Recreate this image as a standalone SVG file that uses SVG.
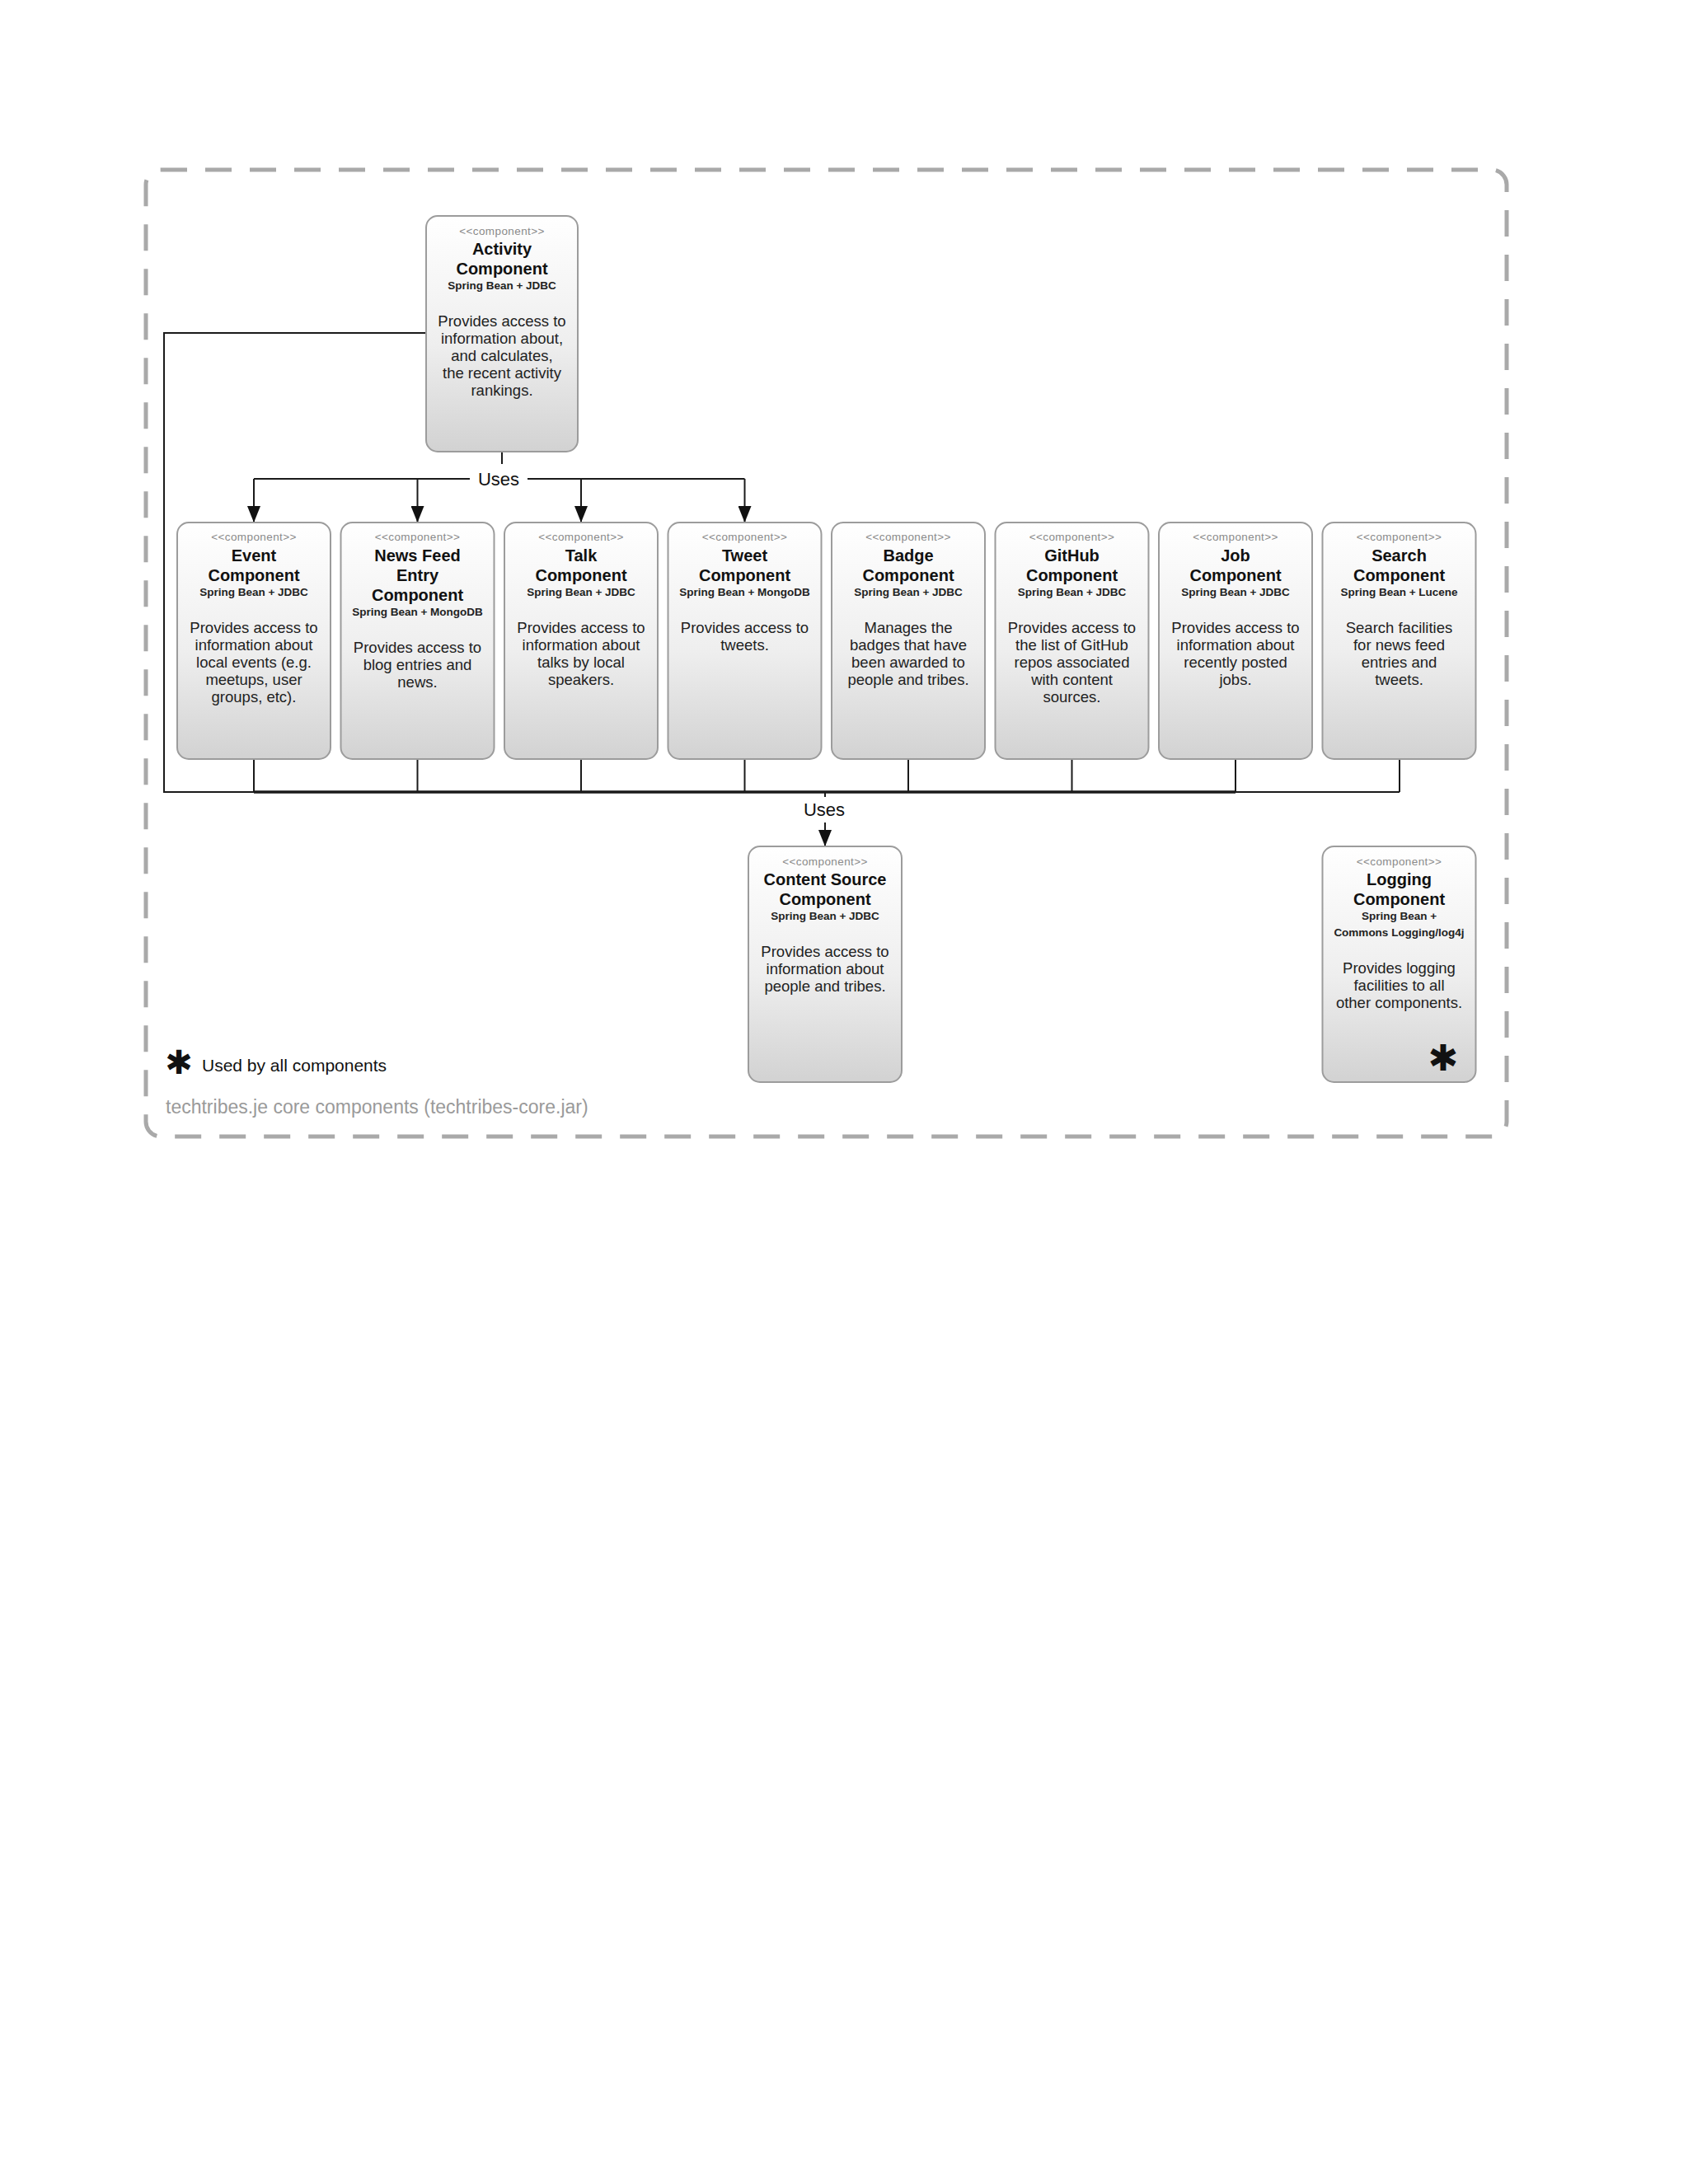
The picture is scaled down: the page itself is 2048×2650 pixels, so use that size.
<svg xmlns="http://www.w3.org/2000/svg" width="2048" height="2650" viewBox="0 0 2048 2650">
<defs>
<linearGradient id="nodeGrad" x1="0" y1="0" x2="0" y2="1">
<stop offset="0" stop-color="#ffffff"/>
<stop offset="0.55" stop-color="#eeeeee"/>
<stop offset="1" stop-color="#d2d2d2"/>
</linearGradient>
<marker id="arrowDown" markerUnits="userSpaceOnUse" markerWidth="16" markerHeight="20" viewBox="0 0 16 20" refX="8" refY="20" orient="0">
<path d="M0,0 L16,0 L8,20 Z" fill="#111"/>
</marker>
</defs>
<style>
.box{fill:url(#nodeGrad);stroke:#9c9c9c;stroke-width:2}
.st{font-family:"Liberation Sans",Arial,sans-serif;font-size:13.5px;fill:#8a8a8a;text-anchor:middle;letter-spacing:0.4px}
.ti{font-family:"Liberation Sans",Arial,sans-serif;font-size:20px;font-weight:bold;fill:#111;text-anchor:middle}
.te{font-family:"Liberation Sans",Arial,sans-serif;font-size:13.5px;font-weight:bold;fill:#222;text-anchor:middle}
.de{font-family:"Liberation Sans",Arial,sans-serif;font-size:18.5px;fill:#222;text-anchor:middle}
.ln{fill:none;stroke:#1a1a1a;stroke-width:2}
.lab{font-family:"Liberation Sans",Arial,sans-serif;font-size:22px;fill:#111;text-anchor:middle}
.ast{font-family:"DejaVu Sans",sans-serif;font-weight:bold;fill:#111;text-anchor:middle}
</style>
<rect width="2048" height="2650" fill="#ffffff"/>

<g id="boundary">
<rect x="177" y="206" width="1651" height="1173" rx="18" ry="18" fill="none" stroke="#a9a9a9" stroke-width="5" stroke-dasharray="32 22"/>
<text x="201" y="1351" font-family="Liberation Sans, Arial, sans-serif" font-size="23" fill="#9a9a9a">techtribes.je core components (techtribes-core.jar)</text>
</g>

<g id="legend">
<text class="ast" x="217" y="1303" font-size="40">✱</text>
<text x="245" y="1300" font-family="Liberation Sans, Arial, sans-serif" font-size="21" fill="#111">Used by all components</text>
</g>

<g id="connectors">
<path class="ln" d="M609,548 L609,563"/>
<path class="ln" d="M308,581 L570,581"/>
<path class="ln" d="M640,581 L903.5,581"/>
<path class="ln" d="M308,581 L308,634" marker-end="url(#arrowDown)"/>
<path class="ln" d="M506.5,581 L506.5,634" marker-end="url(#arrowDown)"/>
<path class="ln" d="M705,581 L705,634" marker-end="url(#arrowDown)"/>
<path class="ln" d="M903.5,581 L903.5,634" marker-end="url(#arrowDown)"/>
<text class="lab" x="605" y="589">Uses</text>
<path class="ln" d="M517,404 L199,404 L199,961 L1698,961"/>
<path d="M308,961 L1499,961" fill="none" stroke="#1a1a1a" stroke-width="3.5"/>
<path class="ln" d="M308,921 L308,961"/>
<path class="ln" d="M506.5,921 L506.5,961"/>
<path class="ln" d="M705,921 L705,961"/>
<path class="ln" d="M903.5,921 L903.5,961"/>
<path class="ln" d="M1102,921 L1102,961"/>
<path class="ln" d="M1300.5,921 L1300.5,961"/>
<path class="ln" d="M1499,921 L1499,961"/>
<path class="ln" d="M1698,921 L1698,961"/>
<path class="ln" d="M1001,961 L1001,967"/>
<text class="lab" x="1000" y="990">Uses</text>
<path class="ln" d="M1001,998 L1001,1027" marker-end="url(#arrowDown)"/>
</g>

<g id="activity">
<rect class="box" x="517" y="262" width="184" height="286" rx="14"/>
<text class="st" x="609" y="285">&lt;&lt;component&gt;&gt;</text>
<text class="ti" x="609" y="309">Activity</text>
<text class="ti" x="609" y="333">Component</text>
<text class="te" x="609" y="351">Spring Bean + JDBC</text>
<text class="de" x="609" y="396">Provides access to</text>
<text class="de" x="609" y="417">information about,</text>
<text class="de" x="609" y="438">and calculates,</text>
<text class="de" x="609" y="459">the recent activity</text>
<text class="de" x="609" y="480">rankings.</text>
</g>

<g id="event">
<rect class="box" x="215" y="634" width="186" height="287" rx="14"/>
<text class="st" x="308" y="656">&lt;&lt;component&gt;&gt;</text>
<text class="ti" x="308" y="681">Event</text>
<text class="ti" x="308" y="705">Component</text>
<text class="te" x="308" y="723">Spring Bean + JDBC</text>
<text class="de" x="308" y="768">Provides access to</text>
<text class="de" x="308" y="789">information about</text>
<text class="de" x="308" y="810">local events (e.g.</text>
<text class="de" x="308" y="831">meetups, user</text>
<text class="de" x="308" y="852">groups, etc).</text>
</g>

<g id="newsfeed">
<rect class="box" x="413.5" y="634" width="186" height="287" rx="14"/>
<text class="st" x="506.5" y="656">&lt;&lt;component&gt;&gt;</text>
<text class="ti" x="506.5" y="681">News Feed</text>
<text class="ti" x="506.5" y="705">Entry</text>
<text class="ti" x="506.5" y="729">Component</text>
<text class="te" x="506.5" y="747">Spring Bean + MongoDB</text>
<text class="de" x="506.5" y="792">Provides access to</text>
<text class="de" x="506.5" y="813">blog entries and</text>
<text class="de" x="506.5" y="834">news.</text>
</g>

<g id="talk">
<rect class="box" x="612" y="634" width="186" height="287" rx="14"/>
<text class="st" x="705" y="656">&lt;&lt;component&gt;&gt;</text>
<text class="ti" x="705" y="681">Talk</text>
<text class="ti" x="705" y="705">Component</text>
<text class="te" x="705" y="723">Spring Bean + JDBC</text>
<text class="de" x="705" y="768">Provides access to</text>
<text class="de" x="705" y="789">information about</text>
<text class="de" x="705" y="810">talks by local</text>
<text class="de" x="705" y="831">speakers.</text>
</g>

<g id="tweet">
<rect class="box" x="810.5" y="634" width="186" height="287" rx="14"/>
<text class="st" x="903.5" y="656">&lt;&lt;component&gt;&gt;</text>
<text class="ti" x="903.5" y="681">Tweet</text>
<text class="ti" x="903.5" y="705">Component</text>
<text class="te" x="903.5" y="723">Spring Bean + MongoDB</text>
<text class="de" x="903.5" y="768">Provides access to</text>
<text class="de" x="903.5" y="789">tweets.</text>
</g>

<g id="badge">
<rect class="box" x="1009" y="634" width="186" height="287" rx="14"/>
<text class="st" x="1102" y="656">&lt;&lt;component&gt;&gt;</text>
<text class="ti" x="1102" y="681">Badge</text>
<text class="ti" x="1102" y="705">Component</text>
<text class="te" x="1102" y="723">Spring Bean + JDBC</text>
<text class="de" x="1102" y="768">Manages the</text>
<text class="de" x="1102" y="789">badges that have</text>
<text class="de" x="1102" y="810">been awarded to</text>
<text class="de" x="1102" y="831">people and tribes.</text>
</g>

<g id="github">
<rect class="box" x="1207.5" y="634" width="186" height="287" rx="14"/>
<text class="st" x="1300.5" y="656">&lt;&lt;component&gt;&gt;</text>
<text class="ti" x="1300.5" y="681">GitHub</text>
<text class="ti" x="1300.5" y="705">Component</text>
<text class="te" x="1300.5" y="723">Spring Bean + JDBC</text>
<text class="de" x="1300.5" y="768">Provides access to</text>
<text class="de" x="1300.5" y="789">the list of GitHub</text>
<text class="de" x="1300.5" y="810">repos associated</text>
<text class="de" x="1300.5" y="831">with content</text>
<text class="de" x="1300.5" y="852">sources.</text>
</g>

<g id="job">
<rect class="box" x="1406" y="634" width="186" height="287" rx="14"/>
<text class="st" x="1499" y="656">&lt;&lt;component&gt;&gt;</text>
<text class="ti" x="1499" y="681">Job</text>
<text class="ti" x="1499" y="705">Component</text>
<text class="te" x="1499" y="723">Spring Bean + JDBC</text>
<text class="de" x="1499" y="768">Provides access to</text>
<text class="de" x="1499" y="789">information about</text>
<text class="de" x="1499" y="810">recently posted</text>
<text class="de" x="1499" y="831">jobs.</text>
</g>

<g id="search">
<rect class="box" x="1604.5" y="634" width="186" height="287" rx="14"/>
<text class="st" x="1697.5" y="656">&lt;&lt;component&gt;&gt;</text>
<text class="ti" x="1697.5" y="681">Search</text>
<text class="ti" x="1697.5" y="705">Component</text>
<text class="te" x="1697.5" y="723">Spring Bean + Lucene</text>
<text class="de" x="1697.5" y="768">Search facilities</text>
<text class="de" x="1697.5" y="789">for news feed</text>
<text class="de" x="1697.5" y="810">entries and</text>
<text class="de" x="1697.5" y="831">tweets.</text>
</g>

<g id="contentsource">
<rect class="box" x="908" y="1027" width="186" height="286" rx="14"/>
<text class="st" x="1001" y="1050">&lt;&lt;component&gt;&gt;</text>
<text class="ti" x="1001" y="1074">Content Source</text>
<text class="ti" x="1001" y="1098">Component</text>
<text class="te" x="1001" y="1116">Spring Bean + JDBC</text>
<text class="de" x="1001" y="1161">Provides access to</text>
<text class="de" x="1001" y="1182">information about</text>
<text class="de" x="1001" y="1203">people and tribes.</text>
</g>

<g id="logging">
<rect class="box" x="1604.5" y="1027" width="186" height="286" rx="14"/>
<text class="st" x="1697.5" y="1050">&lt;&lt;component&gt;&gt;</text>
<text class="ti" x="1697.5" y="1074">Logging</text>
<text class="ti" x="1697.5" y="1098">Component</text>
<text class="te" x="1697.5" y="1116">Spring Bean +</text>
<text class="te" x="1697.5" y="1136">Commons Logging/log4j</text>
<text class="de" x="1697.5" y="1181">Provides logging</text>
<text class="de" x="1697.5" y="1202">facilities to all</text>
<text class="de" x="1697.5" y="1223">other components.</text>
<text class="ast" x="1751" y="1299" font-size="44">✱</text>
</g>
</svg>
